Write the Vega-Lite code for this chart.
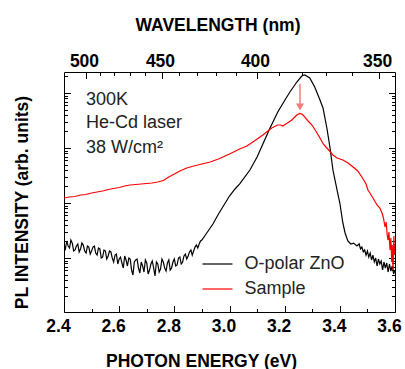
{
  "$schema": "https://vega.github.io/schema/vega-lite/v6.json",
  "width": 331,
  "height": 240,
  "autosize": "none",
  "padding": {"left": 64, "top": 72, "right": 10, "bottom": 57},
  "background": "white",
  "config": {
    "view": {"stroke": null},
    "axis": {
      "grid": false,
      "domainColor": "black",
      "tickColor": "black",
      "labelColor": "black",
      "titleColor": "black",
      "labelFont": "Liberation Sans",
      "titleFont": "Liberation Sans",
      "labelFontWeight": "bold",
      "titleFontWeight": "bold",
      "labelFontSize": 17.5,
      "titleFontSize": 17.5,
      "domainWidth": 1,
      "tickWidth": 1
    }
  },
  "datasets": {
    "spectra": [
      {"series": "O-polar ZnO", "E": 2.40, "I": 17.2},
      {"series": "O-polar ZnO", "E": 2.405, "I": 14.6},
      {"series": "O-polar ZnO", "E": 2.41, "I": 20.4},
      {"series": "O-polar ZnO", "E": 2.415, "I": 16.5},
      {"series": "O-polar ZnO", "E": 2.42, "I": 15.2},
      {"series": "O-polar ZnO", "E": 2.425, "I": 21.2},
      {"series": "O-polar ZnO", "E": 2.43, "I": 18.7},
      {"series": "O-polar ZnO", "E": 2.435, "I": 13.4},
      {"series": "O-polar ZnO", "E": 2.44, "I": 14.0},
      {"series": "O-polar ZnO", "E": 2.445, "I": 16.5},
      {"series": "O-polar ZnO", "E": 2.45, "I": 18.0},
      {"series": "O-polar ZnO", "E": 2.455, "I": 12.9},
      {"series": "O-polar ZnO", "E": 2.46, "I": 14.6},
      {"series": "O-polar ZnO", "E": 2.465, "I": 18.7},
      {"series": "O-polar ZnO", "E": 2.47, "I": 17.2},
      {"series": "O-polar ZnO", "E": 2.475, "I": 13.4},
      {"series": "O-polar ZnO", "E": 2.48, "I": 12.3},
      {"series": "O-polar ZnO", "E": 2.485, "I": 16.5},
      {"series": "O-polar ZnO", "E": 2.49, "I": 15.8},
      {"series": "O-polar ZnO", "E": 2.495, "I": 11.8},
      {"series": "O-polar ZnO", "E": 2.50, "I": 13.4},
      {"series": "O-polar ZnO", "E": 2.505, "I": 15.8},
      {"series": "O-polar ZnO", "E": 2.51, "I": 16.5},
      {"series": "O-polar ZnO", "E": 2.515, "I": 12.3},
      {"series": "O-polar ZnO", "E": 2.52, "I": 11.3},
      {"series": "O-polar ZnO", "E": 2.525, "I": 15.2},
      {"series": "O-polar ZnO", "E": 2.53, "I": 14.6},
      {"series": "O-polar ZnO", "E": 2.535, "I": 10.0},
      {"series": "O-polar ZnO", "E": 2.54, "I": 10.4},
      {"series": "O-polar ZnO", "E": 2.545, "I": 14.0},
      {"series": "O-polar ZnO", "E": 2.55, "I": 13.4},
      {"series": "O-polar ZnO", "E": 2.555, "I": 9.59},
      {"series": "O-polar ZnO", "E": 2.56, "I": 10.9},
      {"series": "O-polar ZnO", "E": 2.565, "I": 13.4},
      {"series": "O-polar ZnO", "E": 2.57, "I": 12.9},
      {"series": "O-polar ZnO", "E": 2.575, "I": 10.0},
      {"series": "O-polar ZnO", "E": 2.58, "I": 8.46},
      {"series": "O-polar ZnO", "E": 2.585, "I": 11.3},
      {"series": "O-polar ZnO", "E": 2.59, "I": 11.8},
      {"series": "O-polar ZnO", "E": 2.595, "I": 7.78},
      {"series": "O-polar ZnO", "E": 2.60, "I": 9.59},
      {"series": "O-polar ZnO", "E": 2.605, "I": 10.4},
      {"series": "O-polar ZnO", "E": 2.61, "I": 8.11},
      {"series": "O-polar ZnO", "E": 2.615, "I": 6.58},
      {"series": "O-polar ZnO", "E": 2.62, "I": 10.9},
      {"series": "O-polar ZnO", "E": 2.625, "I": 9.20},
      {"series": "O-polar ZnO", "E": 2.63, "I": 7.15},
      {"series": "O-polar ZnO", "E": 2.635, "I": 10.0},
      {"series": "O-polar ZnO", "E": 2.64, "I": 9.59},
      {"series": "O-polar ZnO", "E": 2.645, "I": 6.05},
      {"series": "O-polar ZnO", "E": 2.65, "I": 4.91},
      {"series": "O-polar ZnO", "E": 2.655, "I": 8.46},
      {"series": "O-polar ZnO", "E": 2.66, "I": 9.20},
      {"series": "O-polar ZnO", "E": 2.665, "I": 9.59},
      {"series": "O-polar ZnO", "E": 2.67, "I": 6.58},
      {"series": "O-polar ZnO", "E": 2.675, "I": 5.34},
      {"series": "O-polar ZnO", "E": 2.68, "I": 8.46},
      {"series": "O-polar ZnO", "E": 2.685, "I": 7.15},
      {"series": "O-polar ZnO", "E": 2.69, "I": 5.56},
      {"series": "O-polar ZnO", "E": 2.695, "I": 9.20},
      {"series": "O-polar ZnO", "E": 2.70, "I": 8.11},
      {"series": "O-polar ZnO", "E": 2.705, "I": 5.12},
      {"series": "O-polar ZnO", "E": 2.71, "I": 6.05},
      {"series": "O-polar ZnO", "E": 2.715, "I": 7.78},
      {"series": "O-polar ZnO", "E": 2.72, "I": 8.82},
      {"series": "O-polar ZnO", "E": 2.725, "I": 6.58},
      {"series": "O-polar ZnO", "E": 2.73, "I": 4.71},
      {"series": "O-polar ZnO", "E": 2.735, "I": 8.46},
      {"series": "O-polar ZnO", "E": 2.74, "I": 7.78},
      {"series": "O-polar ZnO", "E": 2.745, "I": 5.56},
      {"series": "O-polar ZnO", "E": 2.75, "I": 6.31},
      {"series": "O-polar ZnO", "E": 2.755, "I": 9.59},
      {"series": "O-polar ZnO", "E": 2.76, "I": 8.46},
      {"series": "O-polar ZnO", "E": 2.765, "I": 6.58},
      {"series": "O-polar ZnO", "E": 2.77, "I": 5.80},
      {"series": "O-polar ZnO", "E": 2.775, "I": 8.11},
      {"series": "O-polar ZnO", "E": 2.78, "I": 9.20},
      {"series": "O-polar ZnO", "E": 2.785, "I": 6.05},
      {"series": "O-polar ZnO", "E": 2.79, "I": 6.58},
      {"series": "O-polar ZnO", "E": 2.795, "I": 8.46},
      {"series": "O-polar ZnO", "E": 2.80, "I": 9.59},
      {"series": "O-polar ZnO", "E": 2.805, "I": 7.15},
      {"series": "O-polar ZnO", "E": 2.81, "I": 7.46},
      {"series": "O-polar ZnO", "E": 2.815, "I": 10.0},
      {"series": "O-polar ZnO", "E": 2.82, "I": 10.4},
      {"series": "O-polar ZnO", "E": 2.825, "I": 7.78},
      {"series": "O-polar ZnO", "E": 2.83, "I": 8.46},
      {"series": "O-polar ZnO", "E": 2.835, "I": 10.9},
      {"series": "O-polar ZnO", "E": 2.84, "I": 11.8},
      {"series": "O-polar ZnO", "E": 2.845, "I": 9.59},
      {"series": "O-polar ZnO", "E": 2.85, "I": 10.9},
      {"series": "O-polar ZnO", "E": 2.855, "I": 12.9},
      {"series": "O-polar ZnO", "E": 2.86, "I": 14.0},
      {"series": "O-polar ZnO", "E": 2.865, "I": 11.3},
      {"series": "O-polar ZnO", "E": 2.87, "I": 13.4},
      {"series": "O-polar ZnO", "E": 2.875, "I": 15.8},
      {"series": "O-polar ZnO", "E": 2.88, "I": 17.2},
      {"series": "O-polar ZnO", "E": 2.885, "I": 15.2},
      {"series": "O-polar ZnO", "E": 2.89, "I": 18.0},
      {"series": "O-polar ZnO", "E": 2.895, "I": 20.4},
      {"series": "O-polar ZnO", "E": 2.90, "I": 21.2},
      {"series": "O-polar ZnO", "E": 2.91, "I": 25.1},
      {"series": "O-polar ZnO", "E": 2.92, "I": 29.7},
      {"series": "O-polar ZnO", "E": 2.94, "I": 41.5},
      {"series": "O-polar ZnO", "E": 2.96, "I": 63.1},
      {"series": "O-polar ZnO", "E": 2.98, "I": 92.0},
      {"series": "O-polar ZnO", "E": 3.00, "I": 134},
      {"series": "O-polar ZnO", "E": 3.02, "I": 180},
      {"series": "O-polar ZnO", "E": 3.037, "I": 222},
      {"series": "O-polar ZnO", "E": 3.074, "I": 398},
      {"series": "O-polar ZnO", "E": 3.10, "I": 686},
      {"series": "O-polar ZnO", "E": 3.121, "I": 1183},
      {"series": "O-polar ZnO", "E": 3.147, "I": 2310},
      {"series": "O-polar ZnO", "E": 3.175, "I": 4513},
      {"series": "O-polar ZnO", "E": 3.201, "I": 7460},
      {"series": "O-polar ZnO", "E": 3.219, "I": 10420},
      {"series": "O-polar ZnO", "E": 3.244, "I": 15850},
      {"series": "O-polar ZnO", "E": 3.262, "I": 20370},
      {"series": "O-polar ZnO", "E": 3.273, "I": 21240},
      {"series": "O-polar ZnO", "E": 3.291, "I": 18750},
      {"series": "O-polar ZnO", "E": 3.309, "I": 12860},
      {"series": "O-polar ZnO", "E": 3.328, "I": 7460},
      {"series": "O-polar ZnO", "E": 3.339, "I": 5337},
      {"series": "O-polar ZnO", "E": 3.346, "I": 3511},
      {"series": "O-polar ZnO", "E": 3.353, "I": 2310},
      {"series": "O-polar ZnO", "E": 3.364, "I": 1042},
      {"series": "O-polar ZnO", "E": 3.375, "I": 398},
      {"series": "O-polar ZnO", "E": 3.390, "I": 172},
      {"series": "O-polar ZnO", "E": 3.400, "I": 100},
      {"series": "O-polar ZnO", "E": 3.411, "I": 43.3},
      {"series": "O-polar ZnO", "E": 3.419, "I": 28.5},
      {"series": "O-polar ZnO", "E": 3.429, "I": 20.4},
      {"series": "O-polar ZnO", "E": 3.44, "I": 18.0},
      {"series": "O-polar ZnO", "E": 3.45, "I": 18.7},
      {"series": "O-polar ZnO", "E": 3.462, "I": 16.5},
      {"series": "O-polar ZnO", "E": 3.47, "I": 18.0},
      {"series": "O-polar ZnO", "E": 3.475, "I": 14.6},
      {"series": "O-polar ZnO", "E": 3.48, "I": 15.8},
      {"series": "O-polar ZnO", "E": 3.485, "I": 12.9},
      {"series": "O-polar ZnO", "E": 3.49, "I": 14.0},
      {"series": "O-polar ZnO", "E": 3.495, "I": 11.3},
      {"series": "O-polar ZnO", "E": 3.50, "I": 13.4},
      {"series": "O-polar ZnO", "E": 3.505, "I": 10.4},
      {"series": "O-polar ZnO", "E": 3.51, "I": 12.3},
      {"series": "O-polar ZnO", "E": 3.515, "I": 9.20},
      {"series": "O-polar ZnO", "E": 3.52, "I": 11.3},
      {"series": "O-polar ZnO", "E": 3.525, "I": 8.46},
      {"series": "O-polar ZnO", "E": 3.53, "I": 10.0},
      {"series": "O-polar ZnO", "E": 3.535, "I": 7.15},
      {"series": "O-polar ZnO", "E": 3.54, "I": 9.59},
      {"series": "O-polar ZnO", "E": 3.545, "I": 7.78},
      {"series": "O-polar ZnO", "E": 3.55, "I": 8.82},
      {"series": "O-polar ZnO", "E": 3.555, "I": 6.05},
      {"series": "O-polar ZnO", "E": 3.56, "I": 8.46},
      {"series": "O-polar ZnO", "E": 3.565, "I": 6.58},
      {"series": "O-polar ZnO", "E": 3.57, "I": 8.11},
      {"series": "O-polar ZnO", "E": 3.575, "I": 5.56},
      {"series": "O-polar ZnO", "E": 3.58, "I": 7.78},
      {"series": "O-polar ZnO", "E": 3.585, "I": 5.80},
      {"series": "O-polar ZnO", "E": 3.59, "I": 7.15},
      {"series": "O-polar ZnO", "E": 3.595, "I": 5.12},
      {"series": "O-polar ZnO", "E": 3.60, "I": 6.05},
      {"series": "Sample", "E": 2.40, "I": 123.3},
      {"series": "Sample", "E": 2.42, "I": 128.6},
      {"series": "Sample", "E": 2.44, "I": 131.3},
      {"series": "Sample", "E": 2.46, "I": 139.8},
      {"series": "Sample", "E": 2.48, "I": 142.7},
      {"series": "Sample", "E": 2.50, "I": 152.0},
      {"series": "Sample", "E": 2.52, "I": 158.5},
      {"series": "Sample", "E": 2.54, "I": 165.3},
      {"series": "Sample", "E": 2.56, "I": 176.0},
      {"series": "Sample", "E": 2.58, "I": 183.5},
      {"series": "Sample", "E": 2.60, "I": 191.3},
      {"series": "Sample", "E": 2.62, "I": 203.8},
      {"series": "Sample", "E": 2.64, "I": 212.5},
      {"series": "Sample", "E": 2.66, "I": 217},
      {"series": "Sample", "E": 2.68, "I": 221.6},
      {"series": "Sample", "E": 2.70, "I": 226.2},
      {"series": "Sample", "E": 2.72, "I": 231.0},
      {"series": "Sample", "E": 2.74, "I": 240.9},
      {"series": "Sample", "E": 2.76, "I": 256.6},
      {"series": "Sample", "E": 2.78, "I": 297},
      {"series": "Sample", "E": 2.80, "I": 336.6},
      {"series": "Sample", "E": 2.82, "I": 381.8},
      {"series": "Sample", "E": 2.845, "I": 432.9},
      {"series": "Sample", "E": 2.87, "I": 470.8},
      {"series": "Sample", "E": 2.90, "I": 511.8},
      {"series": "Sample", "E": 2.93, "I": 556.2},
      {"series": "Sample", "E": 2.96, "I": 631},
      {"series": "Sample", "E": 3.00, "I": 778},
      {"series": "Sample", "E": 3.037, "I": 959},
      {"series": "Sample", "E": 3.063, "I": 1087},
      {"series": "Sample", "E": 3.09, "I": 1340},
      {"series": "Sample", "E": 3.121, "I": 1722},
      {"series": "Sample", "E": 3.153, "I": 2310},
      {"series": "Sample", "E": 3.175, "I": 2618},
      {"series": "Sample", "E": 3.185, "I": 2618},
      {"series": "Sample", "E": 3.193, "I": 2512},
      {"series": "Sample", "E": 3.21, "I": 2848},
      {"series": "Sample", "E": 3.226, "I": 3228},
      {"series": "Sample", "E": 3.244, "I": 3981},
      {"series": "Sample", "E": 3.255, "I": 4238},
      {"series": "Sample", "E": 3.265, "I": 4064},
      {"series": "Sample", "E": 3.273, "I": 3660},
      {"series": "Sample", "E": 3.285, "I": 3097},
      {"series": "Sample", "E": 3.299, "I": 2618},
      {"series": "Sample", "E": 3.313, "I": 2037},
      {"series": "Sample", "E": 3.328, "I": 1520},
      {"series": "Sample", "E": 3.34, "I": 1183},
      {"series": "Sample", "E": 3.353, "I": 1000},
      {"series": "Sample", "E": 3.375, "I": 746},
      {"series": "Sample", "E": 3.39, "I": 658},
      {"series": "Sample", "E": 3.411, "I": 605},
      {"series": "Sample", "E": 3.43, "I": 533},
      {"series": "Sample", "E": 3.448, "I": 451},
      {"series": "Sample", "E": 3.465, "I": 382},
      {"series": "Sample", "E": 3.48, "I": 297},
      {"series": "Sample", "E": 3.495, "I": 221.6},
      {"series": "Sample", "E": 3.502, "I": 172.2},
      {"series": "Sample", "E": 3.509, "I": 152},
      {"series": "Sample", "E": 3.52, "I": 123.3},
      {"series": "Sample", "E": 3.535, "I": 91.96},
      {"series": "Sample", "E": 3.545, "I": 81.1},
      {"series": "Sample", "E": 3.553, "I": 65.8},
      {"series": "Sample", "E": 3.558, "I": 53.4},
      {"series": "Sample", "E": 3.564, "I": 36.6},
      {"series": "Sample", "E": 3.568, "I": 45.1},
      {"series": "Sample", "E": 3.572, "I": 25.1},
      {"series": "Sample", "E": 3.575, "I": 21.2},
      {"series": "Sample", "E": 3.578, "I": 29.7},
      {"series": "Sample", "E": 3.582, "I": 14.0},
      {"series": "Sample", "E": 3.585, "I": 23.1},
      {"series": "Sample", "E": 3.588, "I": 8.46},
      {"series": "Sample", "E": 3.59, "I": 17.2},
      {"series": "Sample", "E": 3.593, "I": 6.05},
      {"series": "Sample", "E": 3.596, "I": 25.1},
      {"series": "Sample", "E": 3.598, "I": 11.3},
      {"series": "Sample", "E": 3.60, "I": 18.0}
    ]
  },
  "layer": [
    {
      "data": {"name": "spectra"},
      "mark": {"type": "line", "strokeWidth": 1.2, "clip": true},
      "encoding": {
        "x": {
          "field": "E", "type": "quantitative",
          "scale": {"domain": [2.4, 3.6], "nice": false, "zero": false},
          "axis": {
            "orient": "bottom",
            "values": [2.4, 2.5, 2.6, 2.7, 2.8, 2.9, 3.0, 3.1, 3.2, 3.3, 3.4, 3.5, 3.6],
            "labelExpr": "round(datum.value*10) % 2 == 0 ? format(datum.value, '.1f') : ''",
            "tickSize": {"condition": {"test": "round(datum.value*10) % 2 == 0", "value": -6.5}, "value": -3.5},
            "labelPadding": 12,
            "labelOffset": -6,
            "labelFlush": false,
            "labelOverlap": false,
            "title": "PHOTON ENERGY (eV)",
            "titleX": 137,
            "titleY": 54,
            "titleAlign": "center",
            "titleBaseline": "alphabetic"
          }
        },
        "y": {
          "field": "I", "type": "quantitative",
          "scale": {"type": "log", "domain": [1.043, 24100], "nice": false},
          "axis": {
            "orient": "left",
            "values": [2,3,4,5,6,7,8,9,10,20,30,40,50,60,70,80,90,100,200,300,400,500,600,700,800,900,1000,2000,3000,4000,5000,6000,7000,8000,9000,10000,20000],
            "labels": false,
            "tickSize": {"condition": {"test": "indexof([10,100,1000,10000], datum.value) >= 0", "value": -6.5}, "value": -3.5},
            "title": "PL INTENSITY (arb. units)",
            "titleX": -33,
            "titleY": 130,
            "titleAngle": -90,
            "titleAlign": "center",
            "titleBaseline": "bottom"
          }
        },
        "color": {
          "field": "series", "type": "nominal",
          "scale": {"domain": ["O-polar ZnO", "Sample"], "range": ["#000000", "#ff0000"]},
          "legend": {
            "orient": "none",
            "legendX": 137.5,
            "legendY": 176,
            "title": null,
            "padding": 0,
            "symbolType": "stroke",
            "symbolSize": 900,
            "symbolStrokeWidth": 1.2,
            "labelFont": "Liberation Sans",
            "labelFontSize": 18,
            "labelColor": "#222222",
            "labelOffset": 11,
            "rowPadding": -5
          }
        }
      }
    },
    {
      "data": {"values": [{}]},
      "mark": {"type": "rule", "color": "#f27d7d", "strokeWidth": 1.5},
      "encoding": {
        "x": {
          "datum": 3.2556, "type": "quantitative",
          "axis": {
            "orient": "top",
            "values": [2.4797, 2.5303, 2.5830, 2.6380, 2.6953, 2.7552, 2.8178, 2.8834, 2.9520, 3.0240, 3.0996, 3.1791, 3.2627, 3.3509, 3.4440, 3.5424],
            "labelExpr": "round(1239.84/datum.value) % 50 == 0 ? format(round(1239.84/datum.value), 'd') : ''",
            "tickSize": {"condition": {"test": "round(1239.84/datum.value) % 50 == 0", "value": -6.5}, "value": -3.5},
            "labelPadding": 8,
            "labelOffset": -2,
            "labelFlush": false,
            "labelOverlap": false,
            "title": "WAVELENGTH (nm)",
            "titleX": 153.5,
            "titleY": -42,
            "titleAlign": "center",
            "titleBaseline": "alphabetic"
          }
        },
        "y": {
          "datum": 14580, "type": "quantitative",
          "axis": {
            "orient": "right",
            "values": [2,3,4,5,6,7,8,9,10,20,30,40,50,60,70,80,90,100,200,300,400,500,600,700,800,900,1000,2000,3000,4000,5000,6000,7000,8000,9000,10000,20000],
            "labels": false,
            "tickSize": {"condition": {"test": "indexof([10,100,1000,10000], datum.value) >= 0", "value": -6.5}, "value": -3.5},
            "title": null
          }
        },
        "y2": {"datum": 5802}
      }
    },
    {
      "data": {"values": [{}]},
      "mark": {"type": "point", "shape": "triangle-down", "filled": true, "size": 64, "color": "#f27d7d", "opacity": 1},
      "encoding": {
        "x": {"datum": 3.2556, "type": "quantitative", "axis": null},
        "y": {"datum": 5562, "type": "quantitative", "axis": null}
      }
    },
    {
      "data": {"values": [{}]},
      "mark": {"type": "text", "font": "Liberation Sans", "fontSize": 18, "color": "#222222", "align": "left", "baseline": "alphabetic"},
      "encoding": {
        "x": {"datum": 2.4798, "type": "quantitative", "axis": null},
        "y": {"datum": 6051, "type": "quantitative", "axis": null},
        "text": {"value": "300K"}
      }
    },
    {
      "data": {"values": [{}]},
      "mark": {"type": "text", "font": "Liberation Sans", "fontSize": 18, "color": "#222222", "align": "left", "baseline": "alphabetic"},
      "encoding": {
        "x": {"datum": 2.4798, "type": "quantitative", "axis": null},
        "y": {"datum": 2281, "type": "quantitative", "axis": null},
        "text": {"value": "He-Cd laser"}
      }
    },
    {
      "data": {"values": [{}]},
      "mark": {"type": "text", "font": "Liberation Sans", "fontSize": 18, "color": "#222222", "align": "left", "baseline": "alphabetic"},
      "encoding": {
        "x": {"datum": 2.4798, "type": "quantitative", "axis": null},
        "y": {"datum": 811, "type": "quantitative", "axis": null},
        "text": {"value": "38 W/cm²"}
      }
    }
  ],
  "resolve": {"axis": {"x": "independent", "y": "independent"}}
}
